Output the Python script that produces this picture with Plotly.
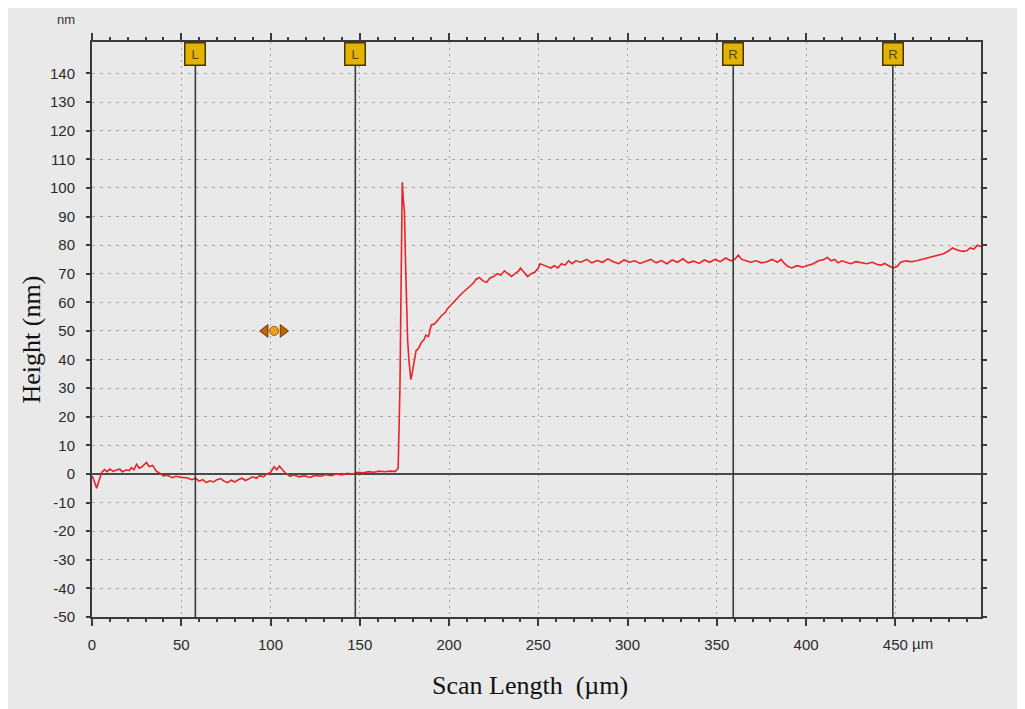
import plotly.graph_objects as go

# ---- data ----
x_um = [0, 1, 2.6, 4, 5.4, 7, 8.5, 10, 12, 14, 15.6, 17, 19, 21, 22, 23.5, 25, 26.5, 28, 30.5,
        32, 34, 36, 38, 40, 42, 45, 47, 50, 53, 56, 58, 60, 62, 64, 66, 68, 70, 72, 74,
        76, 78, 80, 82, 84, 86, 88, 90, 92, 94, 96, 98, 100, 102, 103.5, 105, 107, 109, 111, 113,
        116, 119, 122, 125, 128, 131, 134, 137, 140, 143, 146, 149, 152, 155, 158, 161, 164, 167, 170, 171.5,
        172.5, 173.2, 173.8, 174.5, 175, 175.6, 176.3, 176.8, 177.5, 178, 178.6, 179.3, 180, 181.5, 183, 184.5, 186, 187, 188.5, 190,
        192, 194, 196, 198, 199, 201, 203, 205, 207, 209, 211, 212, 214, 215, 217, 219, 221, 223, 225, 227,
        229, 231, 233, 235, 237, 239, 240, 242, 244, 246, 248, 250, 251, 253, 255, 257, 259, 261, 263, 265,
        267, 269, 271, 274, 277, 280, 283, 286, 289, 292, 295, 298, 301, 304, 307, 310, 313, 316, 319, 322,
        325, 328, 331, 334, 337, 340, 343, 346, 349, 352, 355, 358, 360, 362, 364, 366, 369, 372, 375, 378,
        381, 384, 386, 388, 390, 392, 395, 398, 401, 404, 407, 410, 412, 414, 416, 418, 420, 422, 425, 428,
        431, 434, 437, 440, 442, 444, 447, 449, 451, 453, 456, 459, 462, 465, 468, 471, 474, 477, 480, 482,
        484, 486, 488, 490, 492, 494, 496, 498]
height_nm = [-0.7, -2, -5, -2, 0.5, 1.5, 0.8, 1.7, 0.9, 1.5, 1.7, 0.8, 1.4, 1.2, 2.2, 1.5, 3.4, 2, 2.5, 4,
             2.6, 3, 1, 0.2, -0.7, -0.4, -1.3, -0.8, -1.2, -1.3, -2, -1.5, -2.5, -2, -3, -2.4, -2.8, -2, -1.6, -2.5,
             -3, -2.2, -2.8, -2, -1.5, -2.3, -1.6, -1, -1.5, -0.6, -1, 0, 0.5, 2.5, 1.5, 2.8, 1.2, 0, -0.8, -0.4,
             -1, -0.6, -1.2, -0.5, -0.8, -0.3, -0.6, 0, -0.3, 0.2, 0, 0.6, 0.4, 0.8, 0.6, 1, 0.8, 1, 0.9, 2,
             30, 70, 102, 95, 92, 75, 55, 47, 40, 35, 33, 35, 38, 43, 44, 46, 47, 48.5, 48, 52,
             52.5, 54, 55.5, 56.5, 57.7, 59, 60.5, 61.7, 63, 64, 65, 65.8, 67, 68, 68.7, 67.5, 67, 68.5, 69, 70,
             69.5, 71, 70, 69, 70, 71, 72, 70.5, 69, 70, 70.5, 72, 73.5, 73, 72.5, 72, 72.8, 72, 73.5, 73,
             74.5, 73.5, 74.5, 74, 75, 73.8, 74.6, 74, 75.2, 74.2, 73.5, 74.8, 74, 74.5, 73.6, 74.3, 75, 73.8, 74.6, 73.5,
             74.8, 74, 75.2, 73.8, 74.4, 73.6, 74.8, 74, 75, 74.2, 75.5, 74.5, 75, 76.5, 75, 74.6, 74, 74.5, 73.8, 74.2,
             75, 74, 75, 73.5, 72.5, 72, 72.8, 72.3, 73, 73.5, 74.5, 75, 75.7, 74.5, 75, 73.8, 74.5, 74, 73.5, 74.2,
             73.8, 73.5, 74, 73.2, 73, 73.6, 72.5, 72, 72.5, 74, 74.5, 74.2, 74.5, 75, 75.5, 76, 76.5, 77, 78, 79,
             78.5, 78, 77.8, 78, 79, 78.6, 80, 79.5]

cursor_x = [57.9, 147.5, 359.2, 448.6]
cursor_labels = ["L", "L", "R", "R"]
x_ticks = [0, 50, 100, 150, 200, 250, 300, 350, 400, 450]
x_ticktext = ["0", "50", "100", "150", "200", "250", "300", "350", "400", "450"]
y_ticks = list(range(-50, 141, 10))
y_ticktext = [str(v) for v in y_ticks]   # plain hyphen minus, as in the reference
handle_xy = [102, 50]   # orange drag handle

BG = "#e9e9e9"

fig = go.Figure()

# drag handle (left arrow, right arrow, centre dot)
fig.add_trace(go.Scatter(x=[handle_xy[0] - 5.0, handle_xy[0] + 5.0], y=[handle_xy[1]] * 2,
                         mode="markers", hoverinfo="skip", showlegend=False,
                         marker=dict(symbol=["triangle-left", "triangle-right"], size=11,
                                     color="#c06400", line=dict(color="#6a3800", width=1))))
fig.add_trace(go.Scatter(x=[handle_xy[0]], y=[handle_xy[1]], mode="markers",
                         hoverinfo="skip", showlegend=False,
                         marker=dict(symbol="circle", size=9, color="#f0a020",
                                     line=dict(color="#a05800", width=1))))

fig.add_trace(go.Scatter(x=x_um, y=height_nm, mode="lines", showlegend=False,
                         line=dict(color="#e8232b", width=1.6)))

# cursor lines
for cx in cursor_x:
    fig.add_shape(type="line", xref="x", yref="paper", x0=cx, x1=cx, y0=0, y1=1,
                  line=dict(color="#3c3c3c", width=1.6), layer="above")

for cx, lab in zip(cursor_x, cursor_labels):
    fig.add_annotation(x=cx, y=1, xref="x", yref="paper", yanchor="top", yshift=0,
                       text=lab, showarrow=False, width=17, height=19,
                       bgcolor="#e4b300", bordercolor="#463800", borderwidth=1.5, borderpad=1,
                       font=dict(family="Arial, Liberation Sans", size=13, color="#5a4500"))

tickfont = dict(family="Arial, Liberation Sans", size=15, color="#2a2a2a")

fig.update_xaxes(range=[0, 498], tickvals=x_ticks, ticktext=x_ticktext,
                 showgrid=True, gridcolor="#a8a8a8", griddash="2px,4px", gridwidth=1,
                 showline=True, linecolor="#3a3a3a", linewidth=2, mirror="ticks",
                 ticks="outside", ticklen=7, tickwidth=1.5, tickcolor="#3a3a3a",
                 ticklabelstandoff=6,
                 minor=dict(dtick=10, ticks="outside", ticklen=3, tickcolor="#3a3a3a", showgrid=False),
                 zeroline=False, tickfont=tickfont, fixedrange=True)
fig.update_yaxes(range=[-50, 151], tickvals=y_ticks, ticktext=y_ticktext,
                 showgrid=True, gridcolor="#a8a8a8", griddash="3px,5px", gridwidth=1,
                 showline=True, linecolor="#3a3a3a", linewidth=2, mirror="ticks",
                 ticks="outside", ticklen=4, tickwidth=1.5, tickcolor="#3a3a3a",
                 ticklabelstandoff=8,
                 zeroline=True, zerolinecolor="#4a4a4a", zerolinewidth=1.6,
                 tickfont=tickfont, fixedrange=True)

# unit texts and axis titles
fig.add_annotation(x=450, y=0, xref="x", yref="paper", xanchor="left", yanchor="middle",
                   xshift=15, yshift=-26, text="µm", showarrow=False, font=tickfont)
fig.add_annotation(x=0, y=1, xref="paper", yref="paper", xanchor="right", yanchor="bottom",
                   xshift=-15, yshift=13, text="nm", showarrow=False,
                   font=dict(family="Arial, Liberation Sans", size=13, color="#333333"))
fig.add_annotation(x=0, y=0.5, xref="paper", yref="paper", xanchor="center", yanchor="middle",
                   xshift=-61, yshift=-10, text="Height (nm)", textangle=-90, showarrow=False,
                   font=dict(family="Times New Roman, Liberation Serif", size=26, color="#111111"))
fig.add_annotation(x=0.5, y=0, xref="paper", yref="paper", xanchor="center", yanchor="middle",
                   xshift=-7, yshift=-68, text="Scan Length  (µm)", showarrow=False,
                   font=dict(family="Times New Roman, Liberation Serif", size=26, color="#111111"))

# the page adds an 8px body margin, so the plot area is placed 8px up/left in figure coords
fig.update_layout(width=1025, height=709, margin=dict(l=84, r=52, t=34, b=100, autoexpand=False),
                  paper_bgcolor=BG, plot_bgcolor=BG, showlegend=False)

fig.write_html("out.html")
